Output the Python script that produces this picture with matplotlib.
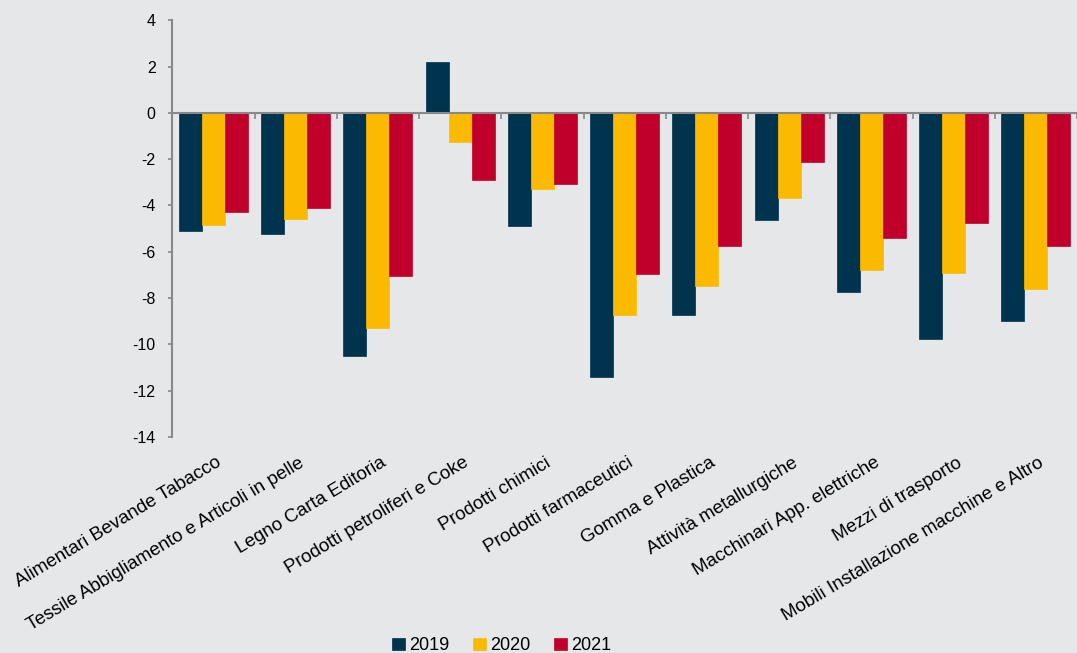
import matplotlib.pyplot as plt
import numpy as np

categories = ["Alimentari Bevande Tabacco", "Tessile Abbigliamento e Articoli in pelle",
              "Legno Carta Editoria", "Prodotti petroliferi e Coke", "Prodotti chimici",
              "Prodotti farmaceutici", "Gomma e Plastica", "Attività metallurgiche",
              "Macchinari App. elettriche", "Mezzi di trasporto",
              "Mobili Installazione macchine e Altro"]
v2019 = [-5.1, -5.25, -10.5, 2.2, -4.9, -11.43, -8.75, -4.63, -7.75, -9.78, -9.0]
v2020 = [-4.85, -4.6, -9.3, -1.25, -3.3, -8.75, -7.5, -3.68, -6.8, -6.93, -7.62]
v2021 = [-4.3, -4.1, -7.05, -2.9, -3.07, -6.97, -5.76, -2.12, -5.4, -4.76, -5.76]
series = ["2019", "2020", "2021"]
colors = ["#00334E", "#FBBA00", "#C0002A"]
yticks = [4, 2, 0, -2, -4, -6, -8, -10, -12, -14]

plt.rcParams['font.family'] = ['Liberation Sans', 'DejaVu Sans']
bg = "#E6E7E9"
fig = plt.figure(figsize=(10.77, 6.53), dpi=100, facecolor=bg)
ax = fig.add_axes([0.16, 0.331, 0.84, 0.638])
ax.set_facecolor(bg)

x = np.arange(len(categories))
w = 0.28
for i, (vals, c, s) in enumerate(zip([v2019, v2020, v2021], colors, series)):
    ax.bar(x + (i - 1) * w, vals, w, color=c, label=s, edgecolor=c, linewidth=0.5)

ax.set_xlim(-0.5, len(categories) - 0.5)
ax.set_ylim(-14, 4)
ax.set_yticks(yticks)
ax.set_yticklabels([str(t) for t in yticks], fontsize=11.5)
ax.tick_params(axis='y', direction='out', length=3, color='#888888', width=1.2, pad=9)

for s in ['top', 'right']:
    ax.spines[s].set_visible(False)
ax.spines['left'].set_color('#888888')
ax.spines['left'].set_linewidth(1.5)
ax.spines['bottom'].set_position(('data', 0))
ax.spines['bottom'].set_color('#888888')
ax.spines['bottom'].set_linewidth(1.5)
ax.set_xticks(np.arange(len(categories) + 1) - 0.5)
ax.set_xticklabels([])
ax.tick_params(axis='x', direction='out', length=4, color='#888888', width=1.2)

for i, cat in enumerate(categories):
    ax.text(i + 0.03, -14.75, cat, rotation=31, ha='right', va='top',
            rotation_mode='anchor', fontsize=13.5)

h, l = ax.get_legend_handles_labels()
fig.legend(h, l, loc='lower center', bbox_to_anchor=(0.466, -0.027), ncol=3,
           frameon=False, fontsize=13, handlelength=0.7, handleheight=0.7,
           handletextpad=0.25, columnspacing=1.3)

fig.savefig("out.png", dpi=100, facecolor=bg)
